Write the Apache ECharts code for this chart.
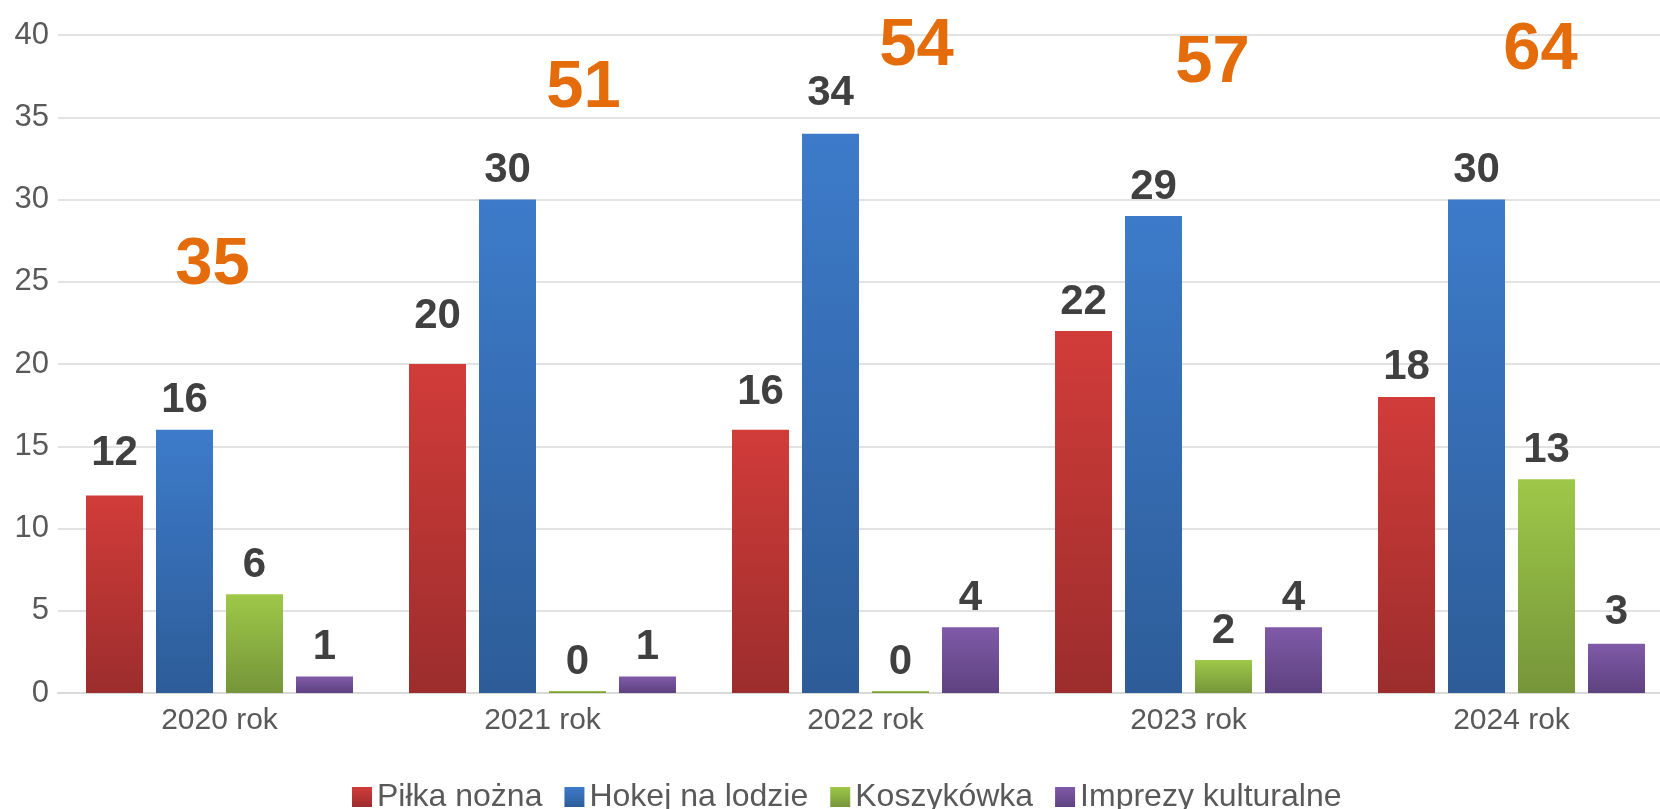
<!DOCTYPE html>
<html>
<head>
<meta charset="utf-8">
<script src="https://cdn.jsdelivr.net/npm/echarts@6/dist/echarts.min.js"></script>
<style>html,body{margin:0;padding:0;background:#fff}#c{width:1660px;height:809px}</style>
</head>
<body>
<div id="c"></div>
<script>
const categories = ['2020 rok', '2021 rok', '2022 rok', '2023 rok', '2024 rok'];
const seriesNames = ['Piłka nożna', 'Hokej na lodzie', 'Koszykówka', 'Imprezy kulturalne'];
const pilka = [12, 20, 16, 22, 18];
const hokej = [16, 30, 34, 29, 30];
const kosz = [6, 0, 0, 2, 13];
const imprezy = [1, 1, 4, 4, 3];
const totals = [35, 51, 54, 57, 64];
// where the orange totals sit (in axis units)
const totalLabelY = [26.4, 37.2, 39.75, 38.7, 39.5];
const yTicks = { min: 0, max: 40, interval: 5 };

// ---- styling (label nudges in px, not data) ----
const totalLabelDX = [-7, 41, 51, 24, 29];
const labelLift = [
  [13, 19, 8, 0, 0],
  [0, 0, 11, 0, 0],
  [0, 0, 0, 0, 0],
  [0, 0, 0, 0, 2]
];
const FONT = '"Liberation Sans", Arial, sans-serif';
const grads = [
  ['#d13c39', '#9c2d2d'],
  ['#3d7bca', '#2d5c98'],
  ['#9ec848', '#76953a'],
  ['#805aa8', '#5e4280']
];
function grad(c) {
  return new echarts.graphic.LinearGradient(0, 0, 0, 1, [
    { offset: 0, color: c[0] }, { offset: 1, color: c[1] }
  ]);
}
const values = [pilka, hokej, kosz, imprezy];
const barSeries = values.map((v, i) => ({
  name: seriesNames[i],
  type: 'bar',
  data: v.map((val, j) => ({
    value: val,
    label: { distance: 8 + labelLift[i][j] }
  })),
  barWidth: 57,
  barGap: '22.8%',
  barMinHeight: i === 2 ? 2 : 0,
  itemStyle: { color: grad(grads[i]) },
  label: {
    show: true, position: 'top', distance: 8,
    fontFamily: FONT, fontSize: 42, fontWeight: 'bold', color: '#404040'
  },
  z: 3
}));

const chart = echarts.init(document.getElementById('c'));
chart.setOption({
  animation: false,
  grid: { left: 58, width: 1615, top: 35, bottom: 116, containLabel: false, outerBoundsMode: 'none' },
  legend: {
    data: seriesNames,
    left: 347, top: 776,
    icon: 'rect', itemWidth: 20, itemHeight: 20, itemGap: 22,
    textStyle: { fontFamily: FONT, fontSize: 32, color: '#595959' }
  },
  xAxis: {
    type: 'category', data: categories,
    axisTick: { show: false },
    axisLine: { show: true, lineStyle: { color: '#d9d9d9', width: 2 } },
    axisLabel: { fontFamily: FONT, fontSize: 30, color: '#595959', margin: 13 }
  },
  yAxis: {
    type: 'value', min: yTicks.min, max: yTicks.max, interval: yTicks.interval,
    axisLine: { show: false }, axisTick: { show: false },
    splitLine: { lineStyle: { color: '#d9d9d9', width: 1.5 } },
    axisLabel: { fontFamily: FONT, fontSize: 31, color: '#595959', margin: 9 }
  },
  series: barSeries.concat([{
    type: 'scatter',
    symbolSize: 0,
    silent: true,
    z: 5,
    itemStyle: { opacity: 1 },
    data: totals.map((t, i) => ({
      value: [i, totalLabelY[i]],
      label: { offset: [totalLabelDX[i], 7] }
    })),
    label: {
      show: true, position: 'inside',
      formatter: p => totals[p.dataIndex],
      fontFamily: FONT, fontSize: 67, fontWeight: 'bold', color: '#e46c0a'
    }
  }])
});
</script>
</body>
</html>
